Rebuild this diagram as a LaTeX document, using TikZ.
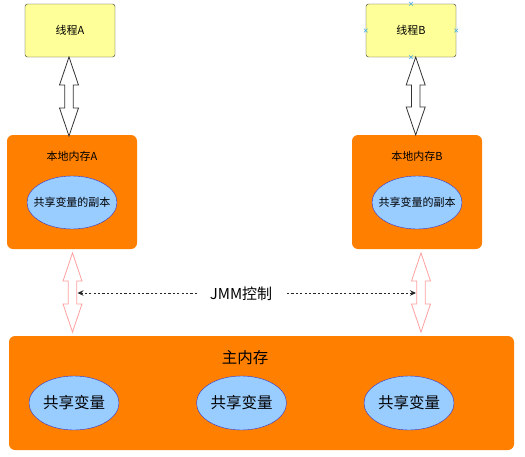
\documentclass[tikz,border=0pt]{standalone}
\usepackage{fontspec}
\setmainfont{Noto Sans CJK SC}
\usetikzlibrary{calc,shapes.geometric,arrows.meta}
\definecolor{thyellow}{HTML}{FFFF99}
\definecolor{memorange}{HTML}{FF8000}
\definecolor{varblue}{HTML}{99CCFF}
\definecolor{varborder}{HTML}{3333CC}
\definecolor{pinkline}{HTML}{FFA0A0}
\definecolor{handle}{HTML}{44AADD}
\tikzset{
  thread/.style={draw=black!80, fill=thyellow, rounded corners=2.5pt, minimum width=90pt, minimum height=53pt, inner sep=0pt, font=\fontsize{11}{13}\selectfont},
  localmem/.style={fill=memorange, rounded corners=6pt, minimum width=130pt, minimum height=114pt, inner sep=0pt},
  mainmem/.style={fill=memorange, rounded corners=6pt, minimum width=505pt, minimum height=114pt, inner sep=0pt},
  copyvar/.style={ellipse, draw=varborder, fill=varblue, minimum width=90pt, minimum height=53pt, inner xsep=-8pt, inner ysep=0pt, font=\fontsize{11}{13}\selectfont},
  sharedvar/.style={ellipse, draw=varborder, fill=varblue, minimum width=90pt, minimum height=54pt, inner xsep=-4pt, inner ysep=0pt, font=\fontsize{15.5}{18}\selectfont},
  memlabel/.style={font=\fontsize{11}{13}\selectfont, inner sep=0pt},
  hollow/.style={draw=black!80, fill=white, line width=0.8pt, line join=miter},
  hollowpink/.style={draw=pinkline, fill=white, line width=0.8pt, line join=miter},
  jmm/.style={dash pattern=on 2.2pt off 2.2pt, draw=black!85, line width=0.9pt, -{Stealth[length=6pt,width=5.5pt]}},
  handlemark/.style={handle, line width=0.6pt},
}
\newcommand{\dblarrow}[4]{% style, top tip, bottom tip, shaft length
  \path[#1] (#2) -- ++(9.5,28) -- ++(-5.2,0) -- ++(0,#4) -- ++(5.2,0) -- (#3)
    -- ++(-9.5,-28) -- ++(5.2,0) -- ++(0,-#4) -- ++(-5.2,0) -- cycle;
}
\newcommand{\hmark}[1]{%
  \draw[handlemark] ($(#1)+(-1.8,-1.8)$) -- ($(#1)+(1.8,1.8)$) ($(#1)+(-1.8,1.8)$) -- ($(#1)+(1.8,-1.8)$);
}
\begin{document}
\begin{tikzpicture}[x=1pt,y=-1pt]
\useasboundingbox (0,0) rectangle (525,456);
% threads
\node[thread] (tA) at (70,30.5) {线程A};
\node[thread] (tB) at (411,30.5) {线程B};
% local memories
\node[localmem] (lA) at (72,192) {};
\node[localmem] (lB) at (417,192) {};
\node[memlabel] (lAt) at (72,156) {本地内存A};
\node[memlabel] (lBt) at (417,156) {本地内存B};
\node[copyvar] (cA) at (72,202.5) {共享变量的副本};
\node[copyvar] (cB) at (417,202.5) {共享变量的副本};
% main memory
\node[mainmem] (mm) at (261.5,393) {};
\node[font=\fontsize{15.5}{18}\selectfont, inner sep=0pt] (mmt) at (245,358) {主内存};
\node[sharedvar] (s1) at (74,403) {共享变量};
\node[sharedvar] (s2) at (241.5,403) {共享变量};
\node[sharedvar] (s3) at (409,403) {共享变量};
% thread <-> local memory arrows
\coordinate (aTop) at (69,57);
\coordinate (aBot) at (69,136);
\coordinate (bTop) at (415.7,57);
\coordinate (bBot) at (415.7,135);
\dblarrow{hollow}{aTop}{aBot}{23}
\dblarrow{hollow}{bTop}{bBot}{22}
% local memory <-> main memory arrows
\coordinate (pATop) at (72.5,253);
\coordinate (pABot) at (72.5,332);
\coordinate (pBTop) at (421,253);
\coordinate (pBBot) at (421,332);
\dblarrow{hollowpink}{pATop}{pABot}{23}
\dblarrow{hollowpink}{pBTop}{pBBot}{23}
% JMM control
\node[font=\fontsize{15}{17}\selectfont, inner sep=0pt] (jmm) at (241,294) {JMM控制};
\coordinate (jL) at (77.5,293);
\coordinate (jR) at (416,293);
\draw[jmm] (197,293) -- (jL);
\draw[jmm] (287,293) -- (jR);
% selection handles on thread B
\hmark{tB.north}
\hmark{tB.south}
\hmark{tB.west}
\hmark{tB.east}
\end{tikzpicture}
\end{document}
